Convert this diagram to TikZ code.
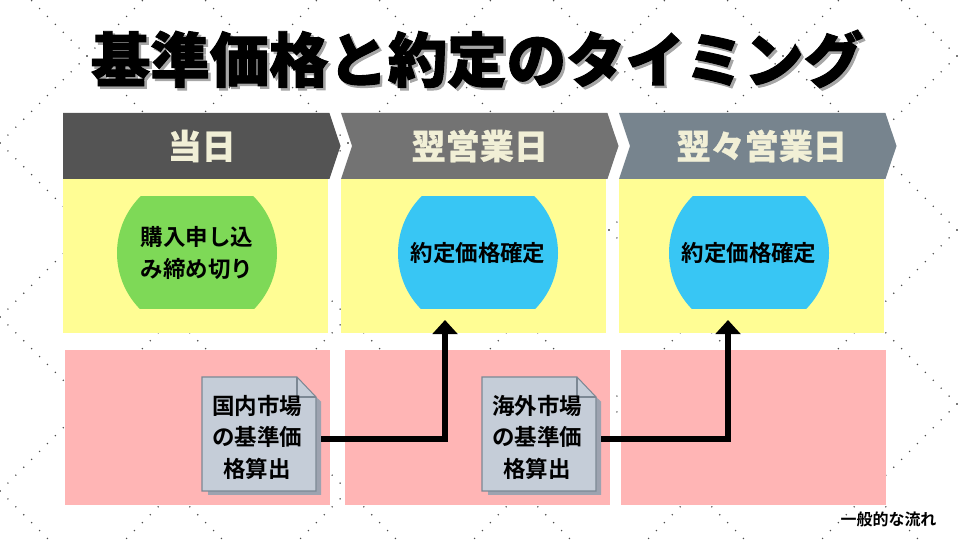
\documentclass[tikz,border=0pt]{standalone}
\usepackage{fontspec}
\usetikzlibrary{arrows.meta,positioning,calc,shapes.symbols}
\newfontfamily\jpfont{Noto Sans CJK JP Bold}
\newfontfamily\jpheavy[FakeBold=1.6]{Noto Sans CJK JP Black}
\newfontfamily\jphead[FakeBold=.5]{Noto Sans CJK JP Black}
\definecolor{headA}{HTML}{545454}
\definecolor{headB}{HTML}{737373}
\definecolor{headC}{HTML}{77848E}
\definecolor{headtext}{HTML}{F1EFD6}
\definecolor{daybg}{HTML}{FFFD94}
\definecolor{marketbg}{HTML}{FFB5B5}
\definecolor{duegreen}{HTML}{7ED957}
\definecolor{fixblue}{HTML}{38C6F4}
\definecolor{sheetface}{HTML}{C5CDD8}
\definecolor{sheetline}{HTML}{7C8894}
\definecolor{sheetshade}{HTML}{9DA3B0}
\begin{document}
\begin{tikzpicture}[
    node distance=.26cm,
    daycell/.style={fill=daybg, minimum width=5.3cm, minimum height=3.08cm, inner sep=0pt, outer sep=0pt},
    marketcell/.style={fill=marketbg, minimum width=5.3cm, minimum height=3.1cm, inner sep=0pt, outer sep=0pt},
    headtag/.style={signal, signal to=east, signal pointer angle=143, fill=#1, text=headtext,
      minimum width=5.55cm, minimum height=1.32cm, inner sep=0pt, outer sep=0pt,
      font=\jphead\fontsize{19.4}{22}\selectfont},
    disc/.style={minimum width=3.2cm, minimum height=2.24cm, inner sep=0pt, align=center,
      font=\jpfont\fontsize{12.8}{18}\selectfont,
      path picture={\fill[#1] (path picture bounding box.center) circle (1.6cm);}},
    sheettext/.style={minimum width=2.56cm, inner sep=0pt, align=center,
      font=\jpfont\fontsize{12.8}{17.9}\selectfont},
    flowline/.style={line width=.12cm, -{Triangle[width=14pt,length=8pt]}},
    latticedot/.style={fill=black!70}
  ]
  \useasboundingbox (0,0) rectangle (19.2,10.8);
  \clip (0,0) rectangle (19.2,10.8);

  % dotted diamonds behind everything
  \foreach \i in {0,...,5}
    \foreach \j in {-1,...,3}
      \foreach \t in {0,...,10} {
        \fill[latticedot] (3.48*\i+.1582*\t, 7.94-3.48*\j+.1582*\t) circle (.016);
        \fill[latticedot] (3.48*\i+.1582*\t, 7.94-3.48*\j-.1582*\t) circle (.016);
        \fill[latticedot] (1.74+3.48*\i+.1582*\t, 9.68-3.48*\j+.1582*\t) circle (.016);
        \fill[latticedot] (1.74+3.48*\i+.1582*\t, 9.68-3.48*\j-.1582*\t) circle (.016);
      }

  % title
  \node[text=black!35, font=\jpheavy\fontsize{33.8}{36}\selectfont] (titleshade) at (9.59,9.57) {基準価格と約定のタイミング};
  \node[font=\jpheavy\fontsize{33.8}{36}\selectfont] (title) at (9.54,9.62) {基準価格と約定のタイミング};

  % columns
  \node[daycell, anchor=north west] (dayA) at (1.26,7.22) {};
  \node[daycell, right=of dayA] (dayB) {};
  \node[daycell, right=of dayB] (dayC) {};

  \node[headtag=headA, anchor=south west] (headA) at (dayA.north west) {\hspace*{.22cm}当日};
  \node[headtag=headB, signal from=west, anchor=south west] (headB) at (dayB.north west) {翌営業日};
  \node[headtag=headC, signal from=west, anchor=south west] (headC) at (dayC.north west) {\hspace*{.16cm}翌々営業日};

  \node[marketcell, below=.34cm of dayA.south west, anchor=north west, xshift=.04cm] (marketA) {};
  \node[marketcell, right=.3cm of marketA] (marketB) {};
  \node[marketcell, right=.22cm of marketB] (marketC) {};

  \node[disc=duegreen] (due) at (3.94,5.74) {購入申し込\\み締め切り};
  \node[disc=fixblue] (fixA) at (9.56,5.74) {約定価格確定};
  \node[disc=fixblue] (fixB) at (14.98,5.74) {約定価格確定};

  % document sheets
  \foreach \x in {4.04,9.64} {
    \fill[sheetshade] (\x+.12,.9) -- (\x+2.38,.9) -- (\x+2.38,2.77) -- (\x+2.28,2.86) -- (\x+.12,2.86) -- cycle;
    \draw[sheetline, fill=sheetface, line width=.6pt] (\x,.98) -- (\x+2.28,.98) -- (\x+2.28,2.86) -- (\x+1.9,3.26) -- (\x,3.26) -- cycle;
    \draw[sheetline, line width=.6pt] (\x+1.9,3.26) -- (\x+1.9,2.86) -- (\x+2.28,2.86);
  }
  \node[sheettext] (sheetA) at (5.14,2.06) {国内市場\\の基準価\\格算出};
  \node[sheettext] (sheetB) at (10.74,2.06) {海外市場\\の基準価\\格算出};

  \coordinate (tipA) at (8.9,4.4);
  \coordinate (tipB) at (14.56,4.4);
  \draw[flowline] ([yshift=-.04cm]sheetA.east) -| (tipA);
  \draw[flowline] ([yshift=-.04cm]sheetB.east) -| (tipB);

  \node[font=\jpfont\fontsize{9.1}{11}\selectfont] (note) at (17.77,.42) {一般的な流れ};
\end{tikzpicture}
\end{document}
